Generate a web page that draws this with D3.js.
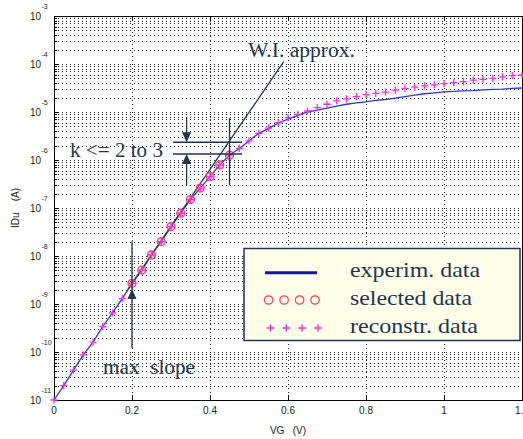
<!DOCTYPE html>
<html><head><meta charset="utf-8">
<script src="https://cdn.jsdelivr.net/npm/d3@7"></script>
<style>html,body{margin:0;padding:0;background:#fff;overflow:hidden}</style>
</head><body><svg id="c" width="523" height="439"></svg>
<script>
// ---------------- data ----------------
const vg = [0,0.025,0.05,0.075,0.1,0.125,0.15,0.175,0.2,0.225,0.25,0.275,0.3,0.325,0.35,0.375,0.4,0.425,0.45,0.475,0.5,0.525,
  0.55,0.575,0.6,0.625,0.65,0.675,0.7,0.725,0.75,0.775,0.8,0.825,0.85,0.875,0.9,0.925,0.95,0.975,1.0,1.025,1.05,1.075,1.1,1.125,1.15,1.175,1.2];
const idRecon = [1.0e-11,2.0e-11,4.2e-11,8.7e-11,1.6e-10,3.4e-10,6.5e-10,1.3e-9,2.7e-9,5.1e-9,1.05e-8,2.0e-8,4.1e-8,7.8e-8,1.5e-7,2.6e-7,4.5e-7,7.9e-7,1.26e-6,1.74e-6,2.5e-6,3.6e-6,
  4.6e-6,6.0e-6,7.6e-6,8.9e-6,1.05e-5,1.23e-5,1.45e-5,1.70e-5,1.88e-5,2.1e-5,2.3e-5,2.45e-5,2.6e-5,2.85e-5,3.1e-5,3.3e-5,3.5e-5,3.67e-5,3.9e-5,4.1e-5,4.3e-5,4.6e-5,4.8e-5,5.0e-5,5.4e-5,5.75e-5,5.9e-5];
const idExp = [1.0e-11,2.0e-11,4.2e-11,8.7e-11,1.6e-10,3.4e-10,6.5e-10,1.3e-9,2.7e-9,5.1e-9,1.05e-8,2.0e-8,4.1e-8,7.8e-8,1.5e-7,2.6e-7,4.5e-7,7.9e-7,1.26e-6,1.74e-6,2.5e-6,3.6e-6,
  4.5e-6,5.9e-6,7.1e-6,8.5e-6,1.0e-5,1.10e-5,1.20e-5,1.32e-5,1.45e-5,1.55e-5,1.62e-5,1.74e-5,1.82e-5,1.95e-5,2.1e-5,2.24e-5,2.4e-5,2.5e-5,2.63e-5,2.7e-5,2.75e-5,2.8e-5,2.9e-5,2.95e-5,3.0e-5,3.1e-5,3.16e-5];
const selVg = [0.2,0.225,0.25,0.275,0.3,0.325,0.35,0.375,0.4,0.425,0.45];
const selId = [2.7e-9,5.1e-9,1.05e-8,2.0e-8,4.1e-8,7.8e-8,1.5e-7,2.6e-7,4.5e-7,7.9e-7,1.26e-6];
const xTicks = [0,0.2,0.4,0.6,0.8,1,1.2];
const xTickLabels = ["0","0.2","0.4","0.6","0.8","1","1.2"];
const yDecades = [-11,-10,-9,-8,-7,-6,-5,-4,-3];
const legendLabels = ["experim. data","selected data","reconstr. data"];
// W.I. approximation line (data coords) and annotation anchors
const wiLine = [[0.19,-8.69],[0.589,-3.952]];     // [vg, log10(I)]
const maxSlopeVg = 0.2, maxSlopeSpan = [-9.92,-7.70], maxSlopeTip = -8.69;
const kVg = 0.45, kSpan = [-6.52,-5.125], kUpper = -5.63, kLower = -5.875, kArrowVg = 0.34, kLineRange = [0.305,0.482];

// ---------------- layout ----------------
const L = 54, R = 522, T = 16, B = 400;
const svg = d3.select("#c");
const x = d3.scaleLinear([0,1.2],[L,R]);
const y = d3.scaleLog([1e-11,1e-3],[B,T]);
const yl = v => y(Math.pow(10,v));
const ink = "#1d3556";
const sans = "'Liberation Sans', Arial, Helvetica, sans-serif";
const serif = "'Liberation Serif', 'Times New Roman', serif";

// grid
const g = svg.append("g").attr("shape-rendering","crispEdges");
g.selectAll("line.h").data(y.ticks()).join("line")
  .attr("x1",L).attr("x2",R).attr("y1",d=>Math.round(y(d))+0.5).attr("y2",d=>Math.round(y(d))+0.5)
  .attr("stroke","#222").attr("stroke-width",1).attr("stroke-dasharray","1,3");
g.selectAll("line.v").data(xTicks.slice(1)).join("line")
  .attr("x1",d=>Math.round(x(d))+0.5).attr("x2",d=>Math.round(x(d))+0.5).attr("y1",T).attr("y2",B)
  .attr("stroke","#222").attr("stroke-width",1).attr("stroke-dasharray","1,3");

// ticks (inward)
const tk = svg.append("g").attr("shape-rendering","crispEdges").attr("stroke","#000");
y.ticks().forEach(d=>{
  const major = Math.abs(Math.log10(d) - Math.round(Math.log10(d))) < 1e-9;
  const yy = Math.round(y(d))+0.5;
  tk.append("line").attr("x1",L).attr("x2",L+(major?5:3)).attr("y1",yy).attr("y2",yy);
});
xTicks.forEach(d=>{
  const xx = Math.round(x(d))+0.5;
  tk.append("line").attr("x1",xx).attr("x2",xx).attr("y1",B).attr("y2",B-5);
  tk.append("line").attr("x1",xx).attr("x2",xx).attr("y1",T).attr("y2",T+5);
});
// frame
svg.append("rect").attr("x",L+0.5).attr("y",T+0.5).attr("width",R-L).attr("height",B-T)
  .attr("fill","none").attr("stroke","#000").attr("stroke-width",1).attr("shape-rendering","crispEdges");

// tick labels
svg.append("g").selectAll("text").data(xTicks).join("text")
  .attr("x",d=>x(d)).attr("y",414).attr("text-anchor","middle")
  .attr("font-family",sans).attr("font-size",10).attr("fill","#222")
  .text((d,i)=>xTickLabels[i]);
const yl10 = svg.append("g").attr("font-family",sans).attr("fill","#222");
yDecades.forEach(k=>{
  const yy = y(Math.pow(10,k));
  yl10.append("text").attr("x",41).attr("y",yy+4).attr("text-anchor","end").attr("font-size",10).text("10");
  yl10.append("text").attr("x",41.5).attr("y",yy-7).attr("font-size",7).text(String(k).replace("-","-"));
});
// axis titles
svg.append("text").attr("x",288).attr("y",434).attr("text-anchor","middle")
  .attr("font-family",sans).attr("font-size",10).attr("fill","#222").attr("xml:space","preserve").text("VG   (V)");
svg.append("text").attr("transform","translate(19,208) rotate(-90)").attr("text-anchor","middle")
  .attr("font-family",sans).attr("font-size",10).attr("fill","#222").attr("xml:space","preserve").text("IDu    (A)");

// experimental curve
const pts = vg.map((v,i)=>[v,idExp[i]]);
svg.append("path").datum(pts)
  .attr("d",d3.line().x(d=>x(d[0])).y(d=>y(d[1])))
  .attr("fill","none").attr("stroke","#2b35e8").attr("stroke-width",1.3);

// W.I. approximation line
svg.append("line")
  .attr("x1",x(wiLine[0][0])).attr("y1",yl(wiLine[0][1]))
  .attr("x2",x(wiLine[1][0])).attr("y2",yl(wiLine[1][1]))
  .attr("stroke",ink).attr("stroke-width",1.3);

// selected data circles
svg.append("g").selectAll("circle").data(selVg).join("circle")
  .attr("cx",d=>x(d)).attr("cy",(d,i)=>y(selId[i])).attr("r",4)
  .attr("fill","rgba(255,140,180,0.35)").attr("stroke","#ff3b5c").attr("stroke-width",1.3);

// reconstructed plus markers
const pl = svg.append("g").attr("stroke","#ff2bf0").attr("stroke-width",1.3);
vg.forEach((v,i)=>{
  const cx = x(v), cy = y(idRecon[i]), h = 3.6;
  pl.append("path").attr("d",`M${cx-h},${cy}H${cx+h}M${cx},${cy-h}V${cy+h}`);
});

// annotations
const an = svg.append("g").attr("stroke",ink).attr("stroke-width",1.3).attr("fill","none");
function arrowHead(xp, tipY, dir){ // dir = -1 pointing up, +1 pointing down
  const b = tipY - dir*10;
  svg.append("path").attr("d",`M${xp},${tipY}L${xp-4.5},${b}L${xp+4.5},${b}Z`).attr("fill",ink);
}
// max slope
an.append("line").attr("x1",x(maxSlopeVg)).attr("x2",x(maxSlopeVg)).attr("y1",yl(maxSlopeSpan[0])).attr("y2",yl(maxSlopeSpan[1]));
arrowHead(x(maxSlopeVg), yl(maxSlopeTip), -1);
// k annotation
an.append("line").attr("x1",x(kVg)).attr("x2",x(kVg)).attr("y1",yl(kSpan[0])).attr("y2",yl(kSpan[1]));
[kUpper,kLower].forEach(v=>an.append("line").attr("x1",x(kLineRange[0])).attr("x2",x(kLineRange[1])).attr("y1",yl(v)).attr("y2",yl(v)));
an.append("line").attr("x1",x(kArrowVg)).attr("x2",x(kArrowVg)).attr("y1",yl(kSpan[1])).attr("y2",yl(kUpper)-8);
an.append("line").attr("x1",x(kArrowVg)).attr("x2",x(kArrowVg)).attr("y1",yl(kLower)+8).attr("y2",yl(kSpan[0]));
arrowHead(x(kArrowVg), yl(kUpper), 1);
arrowHead(x(kArrowVg), yl(kLower), -1);

const at = svg.append("g").attr("font-family",serif).attr("fill",ink).attr("font-size",20);
at.append("text").attr("x",248).attr("y",57).attr("textLength",107).attr("lengthAdjust","spacingAndGlyphs").text("W.I. approx.");
at.append("text").attr("x",70).attr("y",157).attr("textLength",93).attr("lengthAdjust","spacingAndGlyphs").text("k <= 2 to 3");
at.append("text").attr("x",103).attr("y",374).attr("textLength",92).attr("lengthAdjust","spacingAndGlyphs").attr("xml:space","preserve").text("max  slope");

// legend
const lg = svg.append("g");
lg.append("rect").attr("x",244).attr("y",248.5).attr("width",276).attr("height",92)
  .attr("fill","#fffee8").attr("stroke",ink).attr("stroke-width",1.5);
lg.append("line").attr("x1",265).attr("x2",317).attr("y1",272.7).attr("y2",272.7).attr("stroke","#1414a6").attr("stroke-width",3);
[268.6,284.1,299.6,315].forEach(cx=>lg.append("circle").attr("cx",cx).attr("cy",300).attr("r",4.2)
  .attr("fill","none").attr("stroke","#ff3b5c").attr("stroke-width",1.2));
[270.5,286.3,302.1,318].forEach(cx=>lg.append("path").attr("d",`M${cx-3.8},328H${cx+3.8}M${cx},${328-3.8}V${328+3.8}`)
  .attr("stroke","#ee2bd0").attr("stroke-width",1.3));
const lw = [130,122,128];
legendLabels.forEach((t,i)=>lg.append("text").attr("x",350).attr("y",277+i*28)
  .attr("font-family",serif).attr("font-size",21).attr("fill",ink)
  .attr("textLength",lw[i]).attr("lengthAdjust","spacingAndGlyphs").text(t));
</script></body></html>
